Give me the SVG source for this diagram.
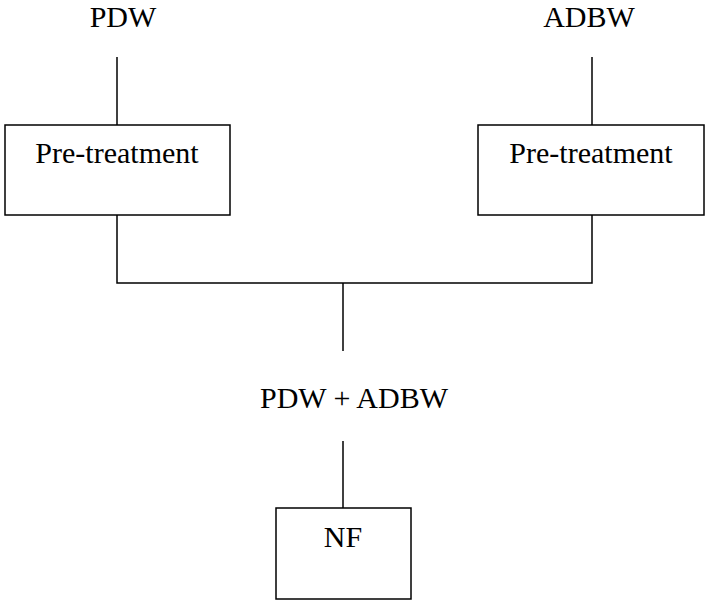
<svg xmlns="http://www.w3.org/2000/svg" width="706" height="600" viewBox="0 0 706 600">
<style>
text { font-family: "Liberation Serif", "Times New Roman", serif; font-size: 30px; fill: #000; text-anchor: middle; }
.box { fill: #fff; stroke: #000; stroke-width: 1.5; }
.conn { fill: none; stroke: #000; stroke-width: 1.5; }
</style>
<rect width="706" height="600" fill="#fff"/>
<g id="connectors">
<line class="conn" x1="117" y1="57" x2="117" y2="125"/>
<line class="conn" x1="592" y1="57" x2="592" y2="125"/>
<polyline class="conn" points="117,215 117,283 592,283 592,215"/>
<line class="conn" x1="343" y1="283" x2="343" y2="351"/>
<line class="conn" x1="343" y1="441" x2="343" y2="508"/>
</g>
<g id="pdw"><text x="123" y="27">PDW</text></g>
<g id="adbw"><text x="589" y="27">ADBW</text></g>
<g id="pretreat-left">
<rect class="box" x="5" y="125" width="225" height="90"/>
<text x="117" y="163">Pre-treatment</text>
</g>
<g id="pretreat-right">
<rect class="box" x="478" y="125" width="226" height="90"/>
<text x="591" y="163">Pre-treatment</text>
</g>
<g id="mix"><text x="354" y="408">PDW + ADBW</text></g>
<g id="nf">
<rect class="box" x="276" y="508" width="135" height="91"/>
<text x="343" y="547">NF</text>
</g>
</svg>
